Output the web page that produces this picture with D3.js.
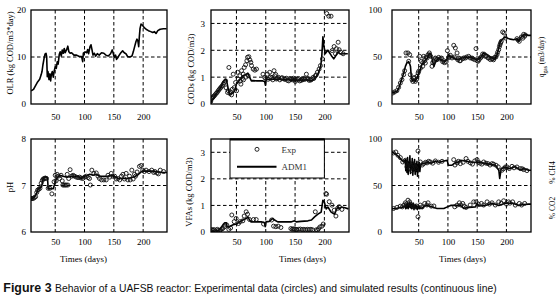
<!DOCTYPE html>
<html><head><meta charset="utf-8">
<script src="https://cdn.jsdelivr.net/npm/d3@7"></script>
<style>
body{margin:0;background:#fff}
svg{display:block}
text{font-family:"Liberation Serif","Times New Roman",serif;fill:#000}
</style>
</head><body>
<svg id="c" width="557" height="299"></svg>
<script>
// ---------------- DATA ----------------
const xTickValues = [50, 100, 150, 200];

const olrDays = [9,13,16,20,23.5,26,27.5,29,31,32.6,34.3,35.4,36.5,37.7,39.4,41,42.2,43.3,45,46.7,48.4,50,51.8,53.5,55,57,58.5,60.3,62,63.7,65.4,67,69.3,71.5,73.3,75.5,78,82,86.5,91,95,96.9,98,101,103.6,105.4,107,109.4,111,112.8,114.5,116.8,119,121.8,125,129,133,136.5,140.5,144.4,147.2,149,150.7,153,154.6,157,159.2,162,165,167.8,170.6,173.5,177.4,181,183.2,185.5,187.8,189.5,191.2,192.4,193.5,194.7,196.4,198.6,201.5,205,209,213,216.3,219.2,222,225,229,234.6,240];
const olrSim = [2.8,3.1,3.8,4.7,5.25,6.2,6.9,8.3,9.7,10.6,10.8,10.1,5.8,6.9,5.2,6.4,4.9,6.2,6.9,5.7,7.1,7.9,7.6,9.0,8.5,10.6,11.1,10.2,11.5,10.8,11.8,10.9,11.5,12.3,11.1,10.8,10.9,10.4,10.4,10.1,10.1,9.0,10.8,11.1,10.9,11.6,10.7,12.2,12.6,11.5,10.4,10.8,10.2,10.7,10.4,10.9,10.8,10.4,10.2,10.7,11.5,10.8,9.9,10.4,9.5,9.9,10.4,10.9,11.3,10.9,10.7,10.1,10.0,10.2,11.1,12.2,13.3,13.8,13.3,12.2,14.3,16.1,17.0,16.8,16.3,15.9,15.6,15.4,15.2,15.4,15.0,15.6,15.9,16.0,16.0];

const codSimDays = [7,10,13,17,21.4,24,27,31,33,35.6,38.5,41,44,47,50,53,55.5,58,61,64,66.5,69.5,71,72.5,75.5,78,85,92,95,98,99.5,101,103,108,115,122,130,138,145,148,150,152,155,160,165,170,175,180,184,187,189,191,193.5,195.5,197.5,199,201.4,204,206,209,212,216,219,223,226,229,235,240];
const codSim = [0.05,0.18,0.3,0.42,0.55,0.65,0.8,0.92,0.9,0.6,0.36,0.38,0.4,0.49,0.75,0.82,0.9,0.95,1.05,1.08,1.1,1.15,1.08,0.99,0.86,0.87,0.86,0.86,0.86,0.84,0.7,0.95,0.92,0.9,0.93,0.92,0.9,0.91,0.88,0.95,0.85,0.9,0.87,0.89,0.88,0.9,0.87,0.88,0.95,1.05,1.1,1.25,1.36,1.75,2.5,2.2,1.87,1.95,2.0,1.9,1.8,1.68,1.78,1.93,1.88,1.86,1.87,1.87];
const codExpDays = [6,8.3,9.5,10.5,11.9,13.5,15.3,17,18.9,20.5,22.3,24,25.7,27.5,29.1,31.4,32.5,34.8,36,37.1,38.8,40,41.7,43,44.5,46.2,48.5,50.2,51.9,53,55.9,57.6,58.7,61.6,63.3,65.6,67.8,68.9,71.2,72.9,74.6,75.7,78.6,81.4,84.2,95.3,98.2,102.7,106.7,110.7,114.1,115.3,118.1,122.1,126.7,131.2,135.2,139.2,143.7,147.1,150.5,154,157.9,161.9,165.3,169.3,172.2,176.7,180.7,184.7,188.1,191,193.3,196.7,204,207.5,211.4,213.2,216.6,218.9,220.6,223.5,225.2,228,232,
  100,104,108,112,117,120,124,128,133,137,141,145,149,152,156,160,163,167,171,174,178,182,186,56,60,62,66,70];
const codExp = [0.09,0.21,0.24,0.27,0.3,0.34,0.39,0.43,0.49,0.54,0.59,0.63,0.68,0.74,0.8,0.86,0.6,0.43,0.5,1.36,0.39,0.45,0.34,0.55,1.11,0.61,0.8,0.49,1.18,0.93,1.05,0.74,1.24,1.11,1.36,1.46,1.61,1.74,1.76,1.64,1.55,1.43,1.3,1.26,1.3,1.11,0.99,1.11,1.18,0.99,1.24,1.05,0.93,0.99,0.96,0.93,0.96,0.86,0.93,0.96,0.84,0.93,0.86,0.93,0.96,1.11,0.93,0.89,0.99,1.05,1.18,1.3,1.43,1.68,3.37,3.27,3.27,1.99,2.14,1.87,2.06,2.3,2.02,1.93,1.87,
  0.95,0.92,1.0,0.9,1.1,0.95,0.9,0.98,0.92,0.88,0.95,0.9,0.92,0.9,0.95,0.88,0.9,0.92,0.95,0.88,0.92,0.95,1.08,0.85,0.95,0.9,1.0,1.05];

const qSimDays = [4.5,8,13,16,18.7,21.5,24.4,27.3,30,33,35,36,37.5,39.5,41.5,44,47,50,52.7,55.5,58.5,61.5,64,67,70,73,76,79,84.2,90,95.6,98.5,101.3,104,107,110,113,118.5,124,130,136,144,149.7,155.5,161,167,172.7,180,184,186.8,189.7,192.5,195.5,198,202,206.7,212.5,218,221,224,227,232.4,238,242];
const qSim = [11.7,12.5,13.5,17,22,27,33,40,44,45,42,40,27.6,25,26,24,27.7,32,36.5,42,44,47,48,52.5,54,48,40,45,49,46,45.4,48,52.5,50,49.5,49,47.5,47.5,49,49.5,50,48.5,47,49,54.2,52.5,50,47.5,52.5,59.6,66.7,68.4,70,71,70,69,68.4,69.5,66.7,70,73,73.8,73,73];
const qExpDays = [5.6,8.9,12.8,15.7,18.6,21.4,24.3,26,28.3,31.7,34.6,32.9,35.7,38.6,41.4,44.3,47.1,50,51.7,54.5,56.8,58.5,61.4,64.3,66,68.3,70.5,72.8,75.7,78.5,81.4,84.2,88.8,92.8,96.8,99.1,101.3,104.2,109.9,112.7,115.6,118.4,121.3,125.3,129.8,135.5,141.2,145.8,148,151.5,155.5,159.4,164,168.5,172.5,176.5,179.9,183.9,186.8,189,191.3,193.6,195.9,198.2,218,222,225.5,229.5,232.4,
  40,43,46,49,53,57,60,63,69,74,80,86,91,94,103,107,111,117,120,127,132,138,143,150,153,157,162,166,170,175,178,182,185,188,190,220,228,231];
const qExp = [11.7,12.8,14.2,17.7,22.3,25.9,31.2,35.4,54.3,54.3,52.5,45.4,31.2,25.9,27.7,24.1,29.4,34.8,50.7,45.4,40.1,50.7,43.6,48.9,52.5,54.3,50.7,40.1,45.4,48.9,47.2,49.6,48.9,46.1,44.7,56.7,49.6,51.8,62.4,59.6,54.3,48.9,46.1,48.2,48.9,50.7,48.9,47.2,58.9,45.4,48.9,53.2,50.7,48.9,47.2,48.2,49.6,52.5,57.8,63.1,66.7,76.6,75.5,70.2,69.5,66.7,71.3,74.1,73.4,
  24,28,26,33,38,44,46,50,52,44,47,48,45,44,50,49,50,47,46,49,50,49,48,46,47,50,53,51,49,48,47,50,55,61,65,68,70,72];

const phSimDays = [8.7,11.6,15,18.2,21,24,26.7,29.5,33.5,36.8,38,42,46.5,49.3,52,57.8,63.5,70,77.6,83,89,94.4,100,104,108.9,114.5,120,126,134.5,140,146,152,157,163,168,174.5,180,186,190,193.7,197,202,208,214,220,226,232,240.7];
const phSim = [6.72,6.72,6.76,6.83,6.93,6.95,6.97,7.15,7.19,7.17,6.93,6.93,6.93,7.04,7.15,7.22,7.2,7.18,7.2,7.19,7.19,7.15,7.2,7.21,7.24,7.22,7.24,7.2,7.2,7.2,7.22,7.19,7.15,7.15,7.15,7.15,7.17,7.19,7.22,7.26,7.3,7.31,7.31,7.31,7.3,7.29,7.28,7.28];
const phExpDays = [8.7,10.5,12.5,14.5,16.6,18.5,20,22,24,26,28,29.5,31.3,33,35,38,41,44.3,48,50,51.5,53.3,55,57.3,60,62,63,65,67,69,70.5,71.6,73,75.4,78,80.5,83,86,89,91.6,94,97,100,103,106,108.5,110,112.5,116,120,123,125.5,129,133,137,140,143,145.6,148,151.3,154,157,160,163,165.5,168,171,174,176.7,178,180.7,183,185.2,187,189.7,193.7,196.5,199.3,202,205,210,214.6,218,220.2,223.6,226,229.2,235];
const phExp = [6.72,6.72,6.72,6.74,6.76,6.85,6.9,6.92,6.94,7.05,7.11,7.14,7.15,7.16,7.15,6.94,6.94,6.82,7.08,7.22,7.1,7.24,7.2,7.15,7.22,7.1,7.01,7.01,7.01,7.01,7.24,7.01,7.15,7.34,7.2,7.22,7.2,7.18,7.17,7.18,7.16,7.15,7.18,7.2,7.17,7.15,7.01,7.33,7.26,7.27,7.2,7.15,7.12,7.12,7.12,7.22,7.18,7.26,7.2,7.2,7.14,7.15,7.12,7.2,7.24,7.14,7.26,7.12,7.2,7.12,7.33,7.14,7.24,7.2,7.29,7.41,7.43,7.33,7.3,7.33,7.3,7.33,7.28,7.3,7.27,7.25,7.33,7.3];

const vfaSimDays = [7,12,19.5,24,28,30,33,34,36,39,44.5,50,55.5,61,66.8,69.5,72.5,75,81,92.3,98,99,100.5,106,112,115,120.5,130,143,149,152,160,172,178,183.3,189,194.5,197.4,200,203,206,211.5,217.5,220,223,226,229,235,241];
const vfaSim = [0.04,0.04,0.05,0.17,0.3,0.35,0.35,0.2,0.2,0.22,0.27,0.3,0.38,0.45,0.51,0.57,0.45,0.38,0.38,0.38,0.35,0.2,0.38,0.4,0.51,0.45,0.38,0.38,0.38,0.42,0.38,0.4,0.42,0.45,0.57,0.67,0.75,1.19,1.12,0.87,0.94,0.75,0.67,0.82,0.94,0.87,0.94,0.91,0.87];
const vfaExpDays = [6,8,10,12,14,17.4,19,21.4,23,25.4,27,29.9,33.6,37,40,42.1,46.2,49.5,53.5,56.4,60.9,63.2,66.6,68.9,72.3,79.1,83.7,96.2,110,113.3,117.2,121.2,125.8,142.8,145,147,149,151.3,153,156,159,162,165,168,171,174,177,180,184.5,186,188.4,190,192.4,195.8,198.1,202.6,203.8,208.3,212.8,216.8,219.7,222.5,225.4,229.9];
const vfaExp = [0.04,0.09,0.07,0.09,0.04,0.1,0.06,0.05,0.08,0.12,0.14,0.2,0.26,0.1,0.15,0.64,0.39,0.51,0.32,0.39,0.42,0.6,0.76,0.67,0.47,0.47,0.47,0.3,0.45,0.22,0.2,0.22,0.17,0.13,0.1,0.12,0.1,0.1,0.09,0.1,0.11,0.09,0.1,0.08,0.1,0.09,0.1,0.08,0.76,0.08,0.07,0.12,0.19,0.22,0.3,1.45,1.42,1.14,1.01,0.82,0.6,0.89,0.95,0.85];

const ch4SimDays = [4.5,10,16,21.5,25,27,28,29,30,31,32,33,34,35,36,37,38,39,40,41,42,43,44,45,46,47,48,49,50,51,52,53,55.7,61,67,72,78.6,85,93,99,100.5,101.3,107,113,117,121.3,130,141,153,164,175.6,181,187,188.5,191,198,204,210,215,220,224,230,238,242];
const ch4Sim = [86,84,81,77,75,78,66,77,64,80,62,75,70,82,63,72,68,79,61,74,66,78,62,73,65,76,60,72,68,75,65,71,73.5,74,75,74,76.4,75,76.4,77,72,71.8,71.8,74.6,75,77,76.4,75,75,73.5,72.6,71.8,66.4,57.5,68,69.8,68,69,70.4,68,67,68,66.4,66.4];
const co2SimDays = [4.5,10,16,21,24.4,27,28,29,30,31,32,33,34,35,36,37,38,39,40,41,42,43,44,45,46,47,48,49,50,51,52,53,55.7,61,67,73,81.5,93,99,104.7,113,121.3,127,136,147,150,153,164,175.6,187,198,210,221,230,238,242];
const co2Sim = [25.3,25,26,26.5,27,28.5,25,30,26,31,25,29,27,32,26,30,25,29,27,31,24,28,26,29,25,28,24,27,26,28,25,26,25.4,28.6,28,27,25.3,25.3,27,28.6,28.6,28.6,25.3,26.5,27,30.8,28,28.6,30.8,28.6,30.8,31.2,28.6,29.5,30,30];
const ch4ExpDays = [7,11,14.5,18.7,22.7,27.2,31.7,35.7,39.7,44.3,48.8,52.8,58.5,64.3,69.9,78.5,84,90,109.9,115.6,121.3,131,138.4,145.8,149.8,155,161.1,168.5,175.3,182.2,192.4,198.2,204.9,209.5,218,223.7,229.5,
  30,34,38,42,46,56,62,67,74,112,118,126,134,142,152,158,165,172,178,186,195,201,213,227,235];
const ch4Exp = [85,86,82.5,80,75.3,77.1,71.8,68.2,73.5,69.9,87.1,75.3,73.5,74.3,75.3,76.4,75,76,77.8,74.3,73.5,79,74.3,76.4,77.8,74,75.3,73.5,73.5,71.8,66.4,69.9,68.2,70.6,69.9,68.2,67.1,
  70,74,66,72,68,72,75,76,74,72,76,75,76,73,75,73,74,72,73,70,68,70,69,68,66];
const co2ExpDays = [7,12.8,18.6,27.2,31.7,34.6,38.6,44.3,48.8,52.8,60.3,66,71.6,111.6,115.6,119.6,125.3,131,144.1,148.1,157.2,166.9,175.3,186.8,195.3,203.8,210.6,215.2,222,231.2,
  22,25,29,36,41,46,56,64,76,122,128,138,152,161,171,181,191,200,206,226];
const co2Exp = [25.3,26.4,27.8,31.4,34.2,32.4,28.9,27.1,16.4,28.9,30.7,31.4,27.8,27.1,28.9,31.4,30.7,26.4,32.4,32.4,30.7,32.4,31.4,32.4,33.6,32.4,32.4,28.9,30.7,30.7,
  27,29,30,30,27,28,27,29,28,29,28,29,30,29,30,29,31,30,31,29];

const yTicksOLR = [0,10,20], yTicksCOD = [0,1,2,3], yTicksQ = [0,50,100];
const yTicksPH = [6,7,8], yTicksVFA = [0,1,2,3], yTicksGas = [0,50,100];

// ---------------- DRAW ----------------
const svg = d3.select("#c");
const pairs = (xs, ys) => d3.range(Math.min(xs.length, ys.length)).map(i => [xs[i], ys[i]]);
let clipN = 0;

function panel(cfg) {
  const x = d3.scaleLinear().domain(cfg.xDomain).range([cfg.x0, cfg.x1]);
  const y = d3.scaleLinear().domain(cfg.yDomain).range([cfg.y1, cfg.y0]);
  const g = svg.append("g");
  const id = "clip" + (clipN++);
  svg.append("clipPath").attr("id", id).append("rect")
    .attr("x", cfg.x0).attr("y", cfg.y0).attr("width", cfg.x1 - cfg.x0).attr("height", cfg.y1 - cfg.y0);
  const gridStyle = s => s.attr("stroke", "#000").attr("stroke-width", 1).attr("stroke-dasharray", "3.5,2.5");
  g.selectAll(".vg").data(xTickValues).join("line")
    .attr("x1", d => x(d)).attr("x2", d => x(d)).attr("y1", cfg.y0).attr("y2", cfg.y1).call(gridStyle);
  g.selectAll(".hg").data(cfg.yGrid).join("line")
    .attr("x1", cfg.x0).attr("x2", cfg.x1).attr("y1", d => y(d)).attr("y2", d => y(d)).call(gridStyle);

  const inner = g.append("g").attr("clip-path", `url(#${id})`);
  const line = d3.line().x(d => x(d[0])).y(d => y(d[1]));
  (cfg.lines || []).forEach(L => {
    inner.append("path").datum(L).attr("d", line)
      .attr("fill", "none").attr("stroke", "#000").attr("stroke-width", 1.6).attr("stroke-linejoin", "round");
  });
  (cfg.points || []).forEach(P => {
    inner.append("g").selectAll("circle").data(P).join("circle")
      .attr("cx", d => x(d[0])).attr("cy", d => y(d[1])).attr("r", 2)
      .attr("fill", "none").attr("stroke", "#111").attr("stroke-width", 0.9);
  });

  if (cfg.legend) {
    const lx0 = cfg.x0 + 19, lx1 = x(200), ly0 = cfg.y0, ly1 = cfg.y0 + 39;
    const lg = g.append("g");
    lg.append("rect").attr("x", lx0).attr("y", ly0).attr("width", lx1 - lx0).attr("height", ly1 - ly0)
      .attr("fill", "#fff").attr("stroke", "#000").attr("stroke-width", 1);
    lg.append("line").attr("x1", lx0).attr("x2", lx1).attr("y1", ly0 + 0.5).attr("y2", ly0 + 0.5)
      .attr("stroke", "#000").attr("stroke-width", 2);
    lg.append("circle").attr("cx", lx0 + 27).attr("cy", ly0 + 10.3).attr("r", 2)
      .attr("fill", "none").attr("stroke", "#111").attr("stroke-width", 0.9);
    lg.append("text").attr("x", lx0 + 51.5).attr("y", ly0 + 10.5).attr("dy", "0.35em")
      .style("font-size", "9px").style("fill", "#333").text("Exp");
    lg.append("line").attr("x1", lx0 + 7).attr("x2", lx0 + 46.5).attr("y1", ly0 + 27.7).attr("y2", ly0 + 27.7)
      .attr("stroke", "#000").attr("stroke-width", 2);
    lg.append("text").attr("x", lx0 + 51.5).attr("y", ly0 + 27.7).attr("dy", "0.35em")
      .style("font-size", "9px").style("fill", "#333").text("ADM1");
  }

  g.append("rect").attr("x", cfg.x0).attr("y", cfg.y0).attr("width", cfg.x1 - cfg.x0).attr("height", cfg.y1 - cfg.y0)
    .attr("fill", "none").attr("stroke", "#000").attr("stroke-width", 1.3);

  const ax = g.append("g").attr("transform", `translate(0,${cfg.y1})`)
    .call(d3.axisBottom(x).tickValues(xTickValues).tickSize(0).tickPadding(cfg.xPad).tickFormat(d3.format("d")));
  const ay = g.append("g").attr("transform", `translate(${cfg.x0},0)`)
    .call(d3.axisLeft(y).tickValues(cfg.yTicks).tickSize(0).tickPadding(cfg.yPad).tickFormat(d3.format("d")));
  [ax, ay].forEach(a => {
    a.select(".domain").remove();
    a.selectAll("text").style("font-family", '"Liberation Serif",serif').style("font-size", "9px").attr("fill", "#000");
  });
}

const col = [
  {x0: 31, x1: 167, xDomain: [8.7, 240.7], yPad: 5},
  {x0: 211, x1: 349, xDomain: [6.6, 242], yPad: 6},
  {x0: 392, x1: 531, xDomain: [4.4, 242], yPad: 10}
];
const row = [{y0: 10, y1: 104, xPad: 10}, {y0: 139, y1: 232, xPad: 7}];

panel({...col[0], ...row[0], yDomain: [0, 20], yTicks: yTicksOLR, yGrid: [10],
  lines: [pairs(olrDays, olrSim)]});
panel({...col[1], ...row[0], yDomain: [0, 3.5], yTicks: yTicksCOD, yGrid: [1, 2, 3],
  lines: [pairs(codSimDays, codSim)], points: [pairs(codExpDays, codExp)]});
panel({...col[2], ...row[0], yDomain: [0, 100], yTicks: yTicksQ, yGrid: [50],
  lines: [pairs(qSimDays, qSim)], points: [pairs(qExpDays, qExp)]});
panel({...col[0], ...row[1], yDomain: [6, 8], yTicks: yTicksPH, yGrid: [7],
  lines: [pairs(phSimDays, phSim)], points: [pairs(phExpDays, phExp)]});
panel({...col[1], ...row[1], yDomain: [0, 3.5], yTicks: yTicksVFA, yGrid: [1, 2, 3],
  lines: [pairs(vfaSimDays, vfaSim)], points: [pairs(vfaExpDays, vfaExp)], legend: true});
panel({...col[2], ...row[1], yDomain: [0, 100], yTicks: yTicksGas, yGrid: [50],
  lines: [pairs(ch4SimDays, ch4Sim), pairs(co2SimDays, co2Sim)],
  points: [pairs(ch4ExpDays, ch4Exp), pairs(co2ExpDays, co2Exp)]});

// axis titles
function vlabel(x, y, size) {
  return svg.append("text").attr("transform", `translate(${x},${y}) rotate(-90)`)
    .attr("text-anchor", "middle").attr("dy", "0.35em").style("font-size", size + "px");
}
vlabel(10, 53, 8.5).text("OLR (kg COD/m3*day)");
vlabel(191, 69, 8.5).text("CODs (kg COD/m3)");
vlabel(10, 187, 8.5).text("pH");
vlabel(189.5, 192, 8.5).text("VFAs (kg COD/m3)");
const q = vlabel(541, 57, 7.5);
q.append("tspan").text("q");
q.append("tspan").attr("baseline-shift", "sub").style("font-size", "5.5px").text("gas");
q.append("tspan").text("   (m3/day)");
vlabel(552.5, 172.5, 7.5).text("% CH4");
vlabel(552.5, 208, 7.5).text("% CO2");

svg.append("text").attr("x", 83.5).attr("y", 258.5).attr("dy", "0.35em").attr("text-anchor", "middle")
  .style("font-size", "9px").text("Times (days)");
svg.append("text").attr("x", 302.5).attr("y", 258.5).attr("dy", "0.35em").attr("text-anchor", "middle")
  .style("font-size", "9px").text("Times (days)");
svg.append("text").attr("x", 462.5).attr("y", 258.5).attr("dy", "0.35em").attr("text-anchor", "middle")
  .style("font-size", "9px").text("Times (days)");

// caption
const cap1 = svg.append("text").attr("x", 3.3).attr("y", 291.5)
  .style("font-family", '"Liberation Sans",Arial,sans-serif').style("font-weight", "bold")
  .style("font-size", "12px").style("fill", "#111").text("Figure 3");
const cap2 = svg.append("text").attr("x", 55).attr("y", 291.5)
  .style("font-family", '"Liberation Sans",Arial,sans-serif')
  .style("font-size", "10px").style("fill", "#111")
  .text("Behavior of a UAFSB reactor: Experimental data (circles) and simulated results (continuous line)");
function fitSize(t, target, base) {
  const len = t.node().getComputedTextLength();
  t.style("font-size", (base * target / len) + "px");
}
fitSize(cap1, 48.3, 12);
fitSize(cap2, 442, 10);
</script>
</body></html>
